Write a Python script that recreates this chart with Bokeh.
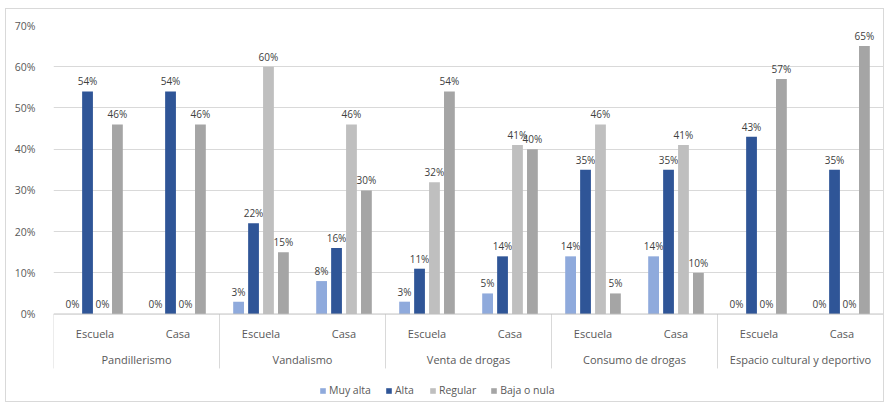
from bokeh.plotting import figure
from bokeh.models import (FactorRange, Range1d, ColumnDataSource, FixedTicker,
                          PrintfTickFormatter, Legend, LegendItem, Span)
from bokeh.transform import dodge
from bokeh.core.properties import value
from bokeh.embed import file_html
from bokeh.resources import INLINE

groups = ["Pandillerismo", "Vandalismo", "Venta de drogas", "Consumo de drogas",
          "Espacio cultural y deportivo"]
places = ["Escuela", "Casa"]
series = ["Muy alta", "Alta", "Regular", "Baja o nula"]
colors = ["#8faadc", "#2f5597", "#bfbfbf", "#a5a5a5"]

muy_alta = [0, 0, 3, 8, 3, 5, 14, 14, 0, 0]
alta = [54, 54, 22, 16, 11, 14, 35, 35, 43, 35]
regular = [0, 0, 60, 46, 32, 41, 46, 41, 0, 0]
baja_o_nula = [46, 46, 15, 30, 54, 40, 5, 10, 57, 65]
y_ticks = [0, 10, 20, 30, 40, 50, 60, 70]

values = [muy_alta, alta, regular, baja_o_nula]
factors = [(g, s) for g in groups for s in places]

FONT = "Open Sans"
TXT = "#595959"

p = figure(x_range=FactorRange(*factors, factor_padding=0, group_padding=0,
                               subgroup_padding=0, range_padding=0),
           y_range=Range1d(-21.7, 70),
           width=877, height=392, output_backend="svg", toolbar_location=None,
           min_border_left=47, min_border_right=2, min_border_top=16,
           min_border_bottom=0)
p.margin = (8, 4, 7, 5)
p.styles = {"border": "1px solid #d9d9d9", "box-sizing": "content-box"}
p.outline_line_color = None
p.xaxis.visible = False
p.xgrid.grid_line_color = None
p.ygrid.ticker = FixedTicker(ticks=y_ticks[1:])
p.ygrid.grid_line_color = "#d9d9d9"
p.yaxis.ticker = FixedTicker(ticks=y_ticks)
p.yaxis.formatter = PrintfTickFormatter(format="%d%%")
p.yaxis.axis_line_color = None
p.yaxis.major_tick_line_color = None
p.yaxis.minor_tick_line_color = None
p.yaxis.major_label_standoff = 12
p.yaxis.major_label_text_font = FONT
p.yaxis.major_label_text_font_size = "10.5px"
p.yaxis.major_label_text_color = TXT

p.add_layout(Span(location=0, dimension="width", line_color="#bfbfbf", line_width=1))

offsets = [-0.27, -0.09, 0.09, 0.27]
data = dict(x=factors)
for i, v in enumerate(values):
    data[f"v{i}"] = v
    data[f"t{i}"] = [f"{a}%" for a in v]
src = ColumnDataSource(data)

items = []
for i, name in enumerate(series):
    r = p.vbar(x=dodge("x", offsets[i], range=p.x_range), top=f"v{i}", width=0.13,
               source=src, fill_color=colors[i], line_color=None)
    items.append(LegendItem(label=name, renderers=[r]))
    p.text(x=dodge("x", offsets[i], range=p.x_range), y=f"v{i}", text=f"t{i}",
           source=src, text_align="center", text_baseline="bottom", y_offset=-3,
           text_font=value(FONT), text_font_size="10px", text_color="#404040")

# category labels
p.text(x=factors, y=[-4.6] * len(factors), text=[s for g, s in factors],
       text_align="center", text_baseline="middle", text_font=value(FONT),
       text_font_size="11px", text_color=TXT)
group_pos = [(g, places[0]) for g in groups]
p.text(x=dodge("x", 0.5, range=p.x_range), y=-11.0, text="t",
       source=ColumnDataSource(dict(x=group_pos, t=groups)),
       text_align="center", text_baseline="middle", text_font=value(FONT),
       text_font_size="11px", text_color=TXT)
# separators
p.segment(x0=dodge("x", -0.5, range=p.x_range), x1=dodge("x", -0.5, range=p.x_range),
          y0=0, y1=-13.2, source=ColumnDataSource(dict(x=group_pos)),
          line_color="#d9d9d9", line_width=1)
p.segment(x0=dodge("x", 0.5, range=p.x_range), x1=dodge("x", 0.5, range=p.x_range),
          y0=0, y1=-13.2, source=ColumnDataSource(dict(x=[factors[-1]])),
          line_color="#d9d9d9", line_width=1)

legend = Legend(items=items, orientation="horizontal", location=(266, 6),
                border_line_color=None, background_fill_alpha=0,
                label_text_font=FONT, label_text_font_size="10.5px",
                label_text_color=TXT, glyph_width=7, glyph_height=7,
                spacing=14, label_standoff=3, padding=4, margin=0)
p.add_layout(legend)

open("out.html", "w").write(file_html(p, INLINE))
